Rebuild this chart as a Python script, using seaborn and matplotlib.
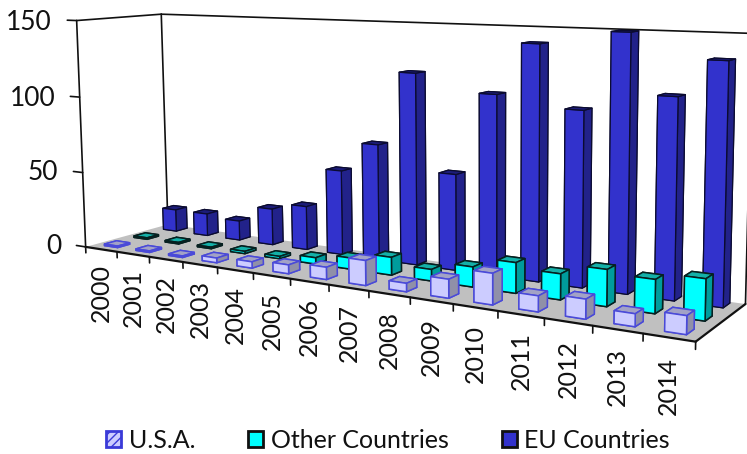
import numpy as np
import matplotlib
matplotlib.use("Agg")
import matplotlib.pyplot as plt
from matplotlib.patches import Patch
from mpl_toolkits.mplot3d import proj3d
from mpl_toolkits.mplot3d.art3d import Poly3DCollection
import seaborn as sns

years = [str(y) for y in range(2000, 2015)]
usa = [1, 1, 1, 3, 4, 5.5, 7.5, 15, 5, 11, 18, 9, 11, 7, 10]
other = [1, 1, 1, 1.5, 1.5, 4, 7, 11, 7, 12, 18, 15, 21, 19, 23]
eu = [15, 15, 13, 24, 28.5, 54.5, 73.5, 120, 59.5, 110, 141, 104, 149.5, 115, 136]
value_ticks = [0, 50, 100, 150]

sns.set_theme(style="white")
plt.rcParams["font.family"] = ["Lato", "DejaVu Sans"]

W, H = 747, 454
fig = plt.figure(figsize=(W / 100, H / 100), dpi=100)
ax = fig.add_axes([0, (H - W) / 2 / H, 1, W / H], projection="3d", computed_zorder=False)
ax.set_axis_off()
ax.apply_aspect()

# Camera: solved from where box corners and category ticks fall on the canvas
n_x, n_y, z_max = len(years), 3, value_ticks[-1]
world = np.array([
    (0, 0, 0), (n_x, 0, 0), (n_x, n_y, 0), (0, n_y, 0),
    (0, 0, z_max), (n_x, n_y, z_max), (0, n_y, z_max),
    (5, 0, 0), (8, 0, 0), (11, 0, 0),
], float)
canvas = np.array([
    (87, 247), (695, 342), (746, 304), (166, 224),
    (75, 20), (752, 33), (163, 15),
    (254, 273), (369, 291), (498, 311),
], float)
view = ax.transData.inverted().transform(np.c_[canvas[:, 0], H - canvas[:, 1]])
scale = np.diag([1 / n_x, 1 / n_y, 1 / z_max, 1.0])
rows = []
for (a, b, c), (u, v) in zip(world * np.diag(scale)[:3], view):
    rows.append([a, b, c, 1, 0, 0, 0, 0, -u * a, -u * b, -u * c, -u])
    rows.append([0, 0, 0, 0, a, b, c, 1, -v * a, -v * b, -v * c, -v])
cam = np.linalg.svd(np.array(rows))[2][-1].reshape(3, 4) @ scale
if cam[2] @ np.array([0, 0, 0, 1.0]) < 0:
    cam = -cam
proj = np.array([cam[0], cam[1], [0, 0, 0, -1.0], cam[2]])
ax.get_proj = lambda: proj


def label_at(x, y, z, text, **kwargs):
    """Upright text anchored at a projected data position."""
    u, v, _ = proj3d.proj_transform(x, y, z, proj)
    ax.text2D(u, v, text, transform=ax.transData, color="#111111", clip_on=False, **kwargs)


# Floor and frame of the box
floor = [[(0, 0, 0), (n_x, 0, 0), (n_x, n_y, 0), (0, n_y, 0)]]
ax.add_collection3d(Poly3DCollection(floor, facecolors="#c0c0c0", edgecolors="none", zorder=1))


def frame_line(p, q, lw=1.2, z=2):
    ax.plot(*zip(p, q), color="#111111", lw=lw, zorder=z, solid_capstyle="round")


frame_line((0, 0, 0), (0, 0, z_max), z=0)
frame_line((0, n_y, 0), (0, n_y, z_max), z=0)
frame_line((n_x, n_y, 0), (n_x, n_y, z_max), z=0)
frame_line((0, 0, z_max), (0, n_y, z_max), z=0)
frame_line((0, n_y, z_max), (n_x, n_y, z_max), z=0)
frame_line((0, 0, 0), (n_x, 0, 0), lw=1.6, z=2)
frame_line((n_x, 0, 0), (n_x, n_y, 0), lw=1.6, z=2)

for v in value_ticks:
    frame_line((0, 0, v), (-0.3, 0, v), z=2)
    label_at(-0.8, 0, v - 2, str(v), ha="right", va="center", fontsize=19)
for k, label in enumerate(years):
    frame_line((k, 0, 0), (k, 0, -4), z=2)
    label_at(k + 0.5, 0, -10, label, rotation=90, ha="center", va="top", fontsize=18)
frame_line((n_x, 0, 0), (n_x, 0, -4), z=2)

# Bars: the back row is painted first, left to right inside each row
# Face order used by bar3d: bottom, top, front, back, left, right
width = 0.42
rows_spec = [
    (2.7, eu, ["#22228a", "#1c1c78", "#3232cc", "#22228a", "#22228a", "#22228a"], "#0b0b30", 0.9),
    (1.6, other, ["#00a0a0", "#14b0a8", "#00ffff", "#009c9c", "#009c9c", "#009c9c"], "#062020", 1.1),
    (0.55, usa, ["#9090a8", "#a2a2c6", "#ccccff", "#9090a8", "#9090a8", "#9090a8"], "#4a4ad8", 1.1),
]
for row, (y_mid, series, faces, edge, lw) in enumerate(rows_spec):
    for k, value in enumerate(series):
        bar = ax.bar3d(k + 0.5 - width / 2, y_mid - width / 2, 0, width, width, value,
                       color=faces, edgecolor=edge, linewidth=lw, shade=False)
        bar.set_zorder(10 + 100 * row + k)

handles = [
    Patch(facecolor="#ccccff", edgecolor="#3a3ad8", hatch="////", linewidth=2),
    Patch(facecolor="#00ffff", edgecolor="#111111", linewidth=2),
    Patch(facecolor="#3232cc", edgecolor="#111111", linewidth=2),
]
fig.legend(handles, ["U.S.A.", "Other Countries", "EU Countries"], ncols=3, loc="center",
           bbox_to_anchor=(388 / W, 1 - 440 / H), frameon=False, fontsize=18,
           handlelength=0.6, handleheight=0.6, handletextpad=0.3, columnspacing=2.12,
           labelcolor="#111111")

fig.savefig("out.png", dpi=100)
